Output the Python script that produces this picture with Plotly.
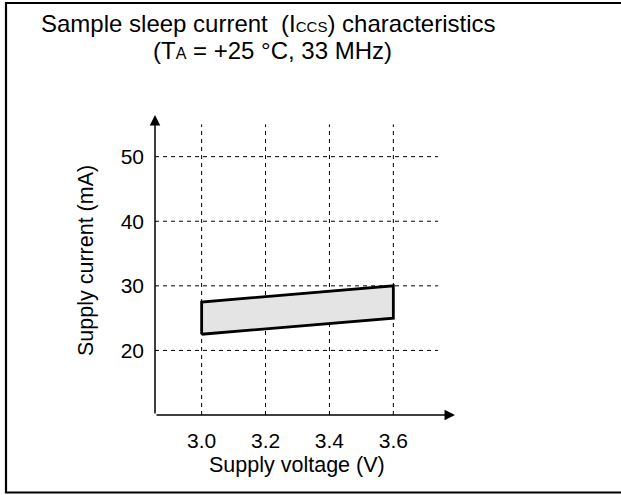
import plotly.graph_objects as go

# Operating band of sleep current vs supply voltage
voltage = [3.0, 3.0, 3.6, 3.6]
current = [22.5, 27.5, 30.0, 25.0]

x_ticks = [3.0, 3.2, 3.4, 3.6]
x_tick_labels = ["3.0", "3.2", "3.4", "3.6"]
y_ticks = [20, 30, 40, 50]
y_tick_labels = ["20", "30", "40", "50"]

X_RANGE = [2.854, 3.793]
Y_RANGE = [10.0, 56.45]
GRID_X_END = 3.74
GRID_Y_END = 55.0

FONT = "Liberation Sans, Arial, sans-serif"

# plot area in pixels
L, T, W, H = 155, 115, 300, 300


def px(xp):
    return (xp - L) / W


def py(yp):
    return (T + H - yp) / H


fig = go.Figure()

fig.add_trace(go.Scatter(
    x=voltage + [voltage[0]],
    y=current + [current[0]],
    mode="lines",
    fill="toself",
    fillcolor="#e4e4e4",
    line=dict(color="black", width=2.8),
    hoverinfo="skip",
    showlegend=False,
))

shapes = []
dash = "4px,4px"
for yv in y_ticks:
    shapes.append(dict(type="line", xref="x", yref="y",
                       x0=X_RANGE[0], x1=GRID_X_END, y0=yv, y1=yv,
                       line=dict(color="black", width=1, dash=dash), layer="below"))
for xv in x_ticks:
    shapes.append(dict(type="line", xref="x", yref="y",
                       x0=xv, x1=xv, y0=Y_RANGE[0], y1=GRID_Y_END,
                       line=dict(color="black", width=1, dash=dash), layer="below"))

# outer frame
shapes.append(dict(type="rect", xref="paper", yref="paper",
                   x0=px(6), x1=px(630), y0=py(492.5), y1=py(3),
                   line=dict(color="black", width=2.2), fillcolor="rgba(0,0,0,0)"))

annotations = []
# axis arrows
annotations.append(dict(x=X_RANGE[1], y=Y_RANGE[0], ax=X_RANGE[0], ay=Y_RANGE[0],
                        xref="x", yref="y", axref="x", ayref="y", text="",
                        showarrow=True, arrowhead=2, arrowsize=1.4, arrowwidth=1.5,
                        arrowcolor="black"))
annotations.append(dict(x=X_RANGE[0], y=Y_RANGE[1], ax=X_RANGE[0], ay=Y_RANGE[0],
                        xref="x", yref="y", axref="x", ayref="y", text="",
                        showarrow=True, arrowhead=2, arrowsize=1.4, arrowwidth=1.5,
                        arrowcolor="black"))

# titles
annotations.append(dict(
    x=px(39), y=py(23), xref="paper", yref="paper", xanchor="left", yanchor="middle",
    text="Sample sleep current  (I<span style='font-size:15px'>CCS</span>) characteristics",
    showarrow=False, font=dict(family=FONT, size=24, color="black")))
annotations.append(dict(
    x=px(151), y=py(51), xref="paper", yref="paper", xanchor="left", yanchor="middle",
    text="(T<span style='font-size:16px'>A</span> = +25 °C, 33 MHz)",
    showarrow=False, font=dict(family=FONT, size=24, color="black")))

# axis titles
annotations.append(dict(
    x=px(296.5), y=py(465), xref="paper", yref="paper", xanchor="center", yanchor="middle",
    text="Supply voltage (V)", showarrow=False,
    font=dict(family=FONT, size=21.5, color="black")))
annotations.append(dict(
    x=px(86), y=py(261), xref="paper", yref="paper", xanchor="center", yanchor="middle",
    text="Supply current (mA)", textangle=-90, showarrow=False,
    font=dict(family=FONT, size=21.5, color="black")))

fig.update_layout(
    width=621, height=495,
    margin=dict(l=L, r=621 - L - W, t=T, b=495 - T - H, pad=0),
    paper_bgcolor="white", plot_bgcolor="white",
    shapes=shapes, annotations=annotations,
    showlegend=False,
    xaxis=dict(range=X_RANGE, tickvals=x_ticks, ticktext=x_tick_labels,
               showgrid=False, zeroline=False, showline=False, ticks="",
               ticklabelstandoff=11,
               tickfont=dict(family=FONT, size=21, color="black")),
    yaxis=dict(range=Y_RANGE, tickvals=y_ticks, ticktext=y_tick_labels,
               showgrid=False, zeroline=False, showline=False, ticks="",
               ticklabelstandoff=10,
               tickfont=dict(family=FONT, size=21, color="black")),
)

fig.write_html("out.html")
